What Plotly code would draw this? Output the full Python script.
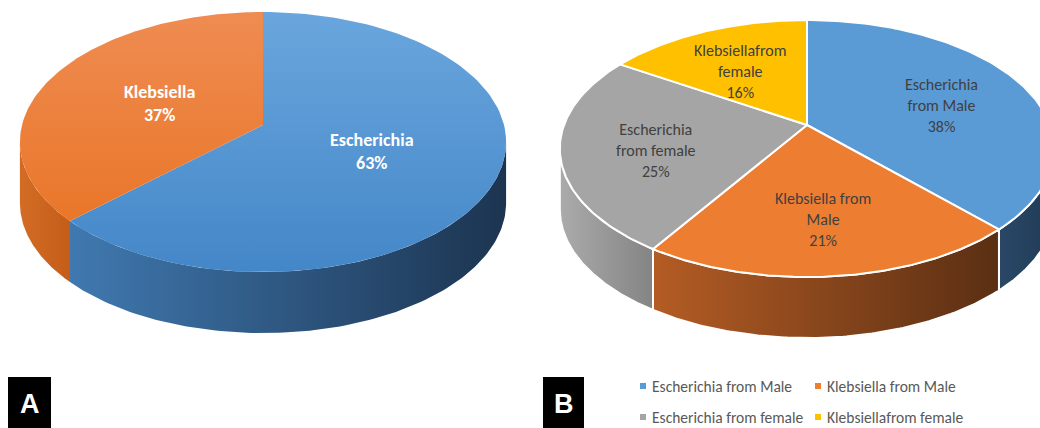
import numpy as np
import plotly.graph_objects as go

# Panel A: share of isolates by genus
genus_names = ["Escherichia", "Klebsiella"]
genus_share = [63, 37]

# Panel B: share of isolates by genus and sex
group_names = ["Escherichia from Male", "Klebsiella from Male",
               "Escherichia from female", "Klebsiellafrom female"]
group_text = ["Escherichia<br>from Male", "Klebsiella from<br>Male",
              "Escherichia<br>from female", "Klebsiellafrom<br>female"]
group_share = [38, 21, 25, 16]

# Styling
BLUE, ORANGE, GRAY, YELLOW = "#5B9BD5", "#ED7D31", "#A5A5A5", "#FFC000"
A_TOP = [("#6AA6DD", "#4487C8"), ("#EF8C52", "#E8711F")]
A_WALL = [("#4079B0", "#1C3450"), ("#D36C24", "#C45D18")]
B_TOP = [BLUE, ORANGE, GRAY, YELLOW]
B_WALL = [("#2A4866", "#1F3A55"), ("#B45C24", "#5A2F13"),
          ("#ABABAB", "#848484"), ("#D9A400", "#A07800")]
LABEL_FONT = "Carlito, Calibri, Lato, sans-serif"

W, H = 1040, 428


def project(p, r, theta_deg):
    """Perspective projection of a point on a tilted disc (angle clockwise from 12 o'clock)."""
    th = np.radians(theta_deg)
    X = r * np.sin(th)
    Y = r * np.cos(th)
    s = 1.0 / (1.0 + p["t"] * Y)
    return p["cx"] + p["ax"] * X * s, p["cy"] - p["by"] * Y * s


def arc(p, a1, a2, n=120):
    ang = np.linspace(a1, a2, max(n, 4))
    xs, ys = project(p, 1.0, ang)
    return np.asarray(xs), np.asarray(ys)


def slice_bounds(values):
    total = float(sum(values))
    edges = np.concatenate([[0.0], np.cumsum(values) / total * 360.0])
    return list(zip(edges[:-1], edges[1:]))


def add_pie(fig, p, values, top_colors, wall_colors, edge_color, edge_width, top_gradient):
    bounds = slice_bounds(values)
    th_r = np.degrees(np.arccos(-p["t"]))
    th_l = 360.0 - th_r
    # side walls first
    for (a1, a2), (c_left, c_right) in zip(bounds, wall_colors):
        lo, hi = max(a1, th_r), min(a2, th_l)
        if hi <= lo:
            continue
        xs, ys = arc(p, lo, hi)
        px = np.concatenate([xs, xs[::-1], xs[:1]])
        py = np.concatenate([ys, ys[::-1] + p["depth"], ys[:1]])
        fig.add_trace(go.Scatter(
            x=px, y=py, mode="lines", fill="toself",
            line=dict(color=edge_color, width=edge_width),
            fillgradient=dict(type="horizontal",
                              colorscale=[[0, c_left], [1, c_right]]),
            hoverinfo="skip", showlegend=False))
    # top faces
    top_y = p["cy"] - p["by"] / (1 + p["t"])
    bot_y = p["cy"] + p["by"] / (1 - p["t"])
    for (a1, a2), col in zip(bounds, top_colors):
        xs, ys = arc(p, a1, a2)
        px = np.concatenate([[p["cx"]], xs, [p["cx"]]])
        py = np.concatenate([[p["cy"]], ys, [p["cy"]]])
        kw = {}
        if top_gradient:
            kw["fillgradient"] = dict(type="vertical", start=top_y, stop=bot_y,
                                      colorscale=[[0, col[0]], [1, col[1]]])
        else:
            kw["fillcolor"] = col
        fig.add_trace(go.Scatter(
            x=px, y=py, mode="lines", fill="toself",
            line=dict(color=edge_color, width=edge_width),
            hoverinfo="skip", showlegend=False, **kw))
    return bounds


fig = go.Figure()

pie_a = dict(cx=263, cy=125, ax=241, by=127.8, t=0.131, depth=61)
pie_b = dict(cx=807, cy=125, ax=243, by=124.2, t=0.183, depth=61)

bounds_a = add_pie(fig, pie_a, genus_share, A_TOP, A_WALL,
                   "rgba(0,0,0,0)", 0, True)
bounds_b = add_pie(fig, pie_b, group_share, B_TOP, B_WALL,
                   "white", 2, False)

annotations = []

# data labels for panel A
for name, val, (a1, a2) in zip(genus_names, genus_share, bounds_a):
    lx, ly = project(pie_a, 0.48, (a1 + a2) / 2)
    annotations.append(dict(
        x=lx, y=ly + 2, xref="x", yref="y", showarrow=False,
        text=f"<b>{name}<br>{val}%</b>", align="center",
        font=dict(family=LABEL_FONT, size=18, color="white")))

# data labels for panel B
for txt, val, (a1, a2) in zip(group_text, group_share, bounds_b):
    lx, ly = project(pie_b, 0.62, (a1 + a2) / 2)
    annotations.append(dict(
        x=lx, y=ly + 8, xref="x", yref="y", showarrow=False,
        text=f"{txt}<br>{val}%", align="center",
        font=dict(family=LABEL_FONT, size=16, color="#404040")))

# legend for panel B (two rows of two entries)
leg_x0, leg_dx, leg_y0, leg_dy = 643, 175, 386, 31
leg_x = [leg_x0 + (i % 2) * leg_dx for i in range(len(group_names))]
leg_y = [leg_y0 + (i // 2) * leg_dy for i in range(len(group_names))]
fig.add_trace(go.Scatter(
    x=leg_x, y=leg_y, mode="markers",
    marker=dict(symbol="square", size=6, color=B_TOP),
    hoverinfo="skip", showlegend=False))
for name, lx, ly in zip(group_names, leg_x, leg_y):
    annotations.append(dict(
        x=lx + 7, y=ly, xref="x", yref="y", showarrow=False,
        xanchor="left", yanchor="middle", text=name,
        font=dict(family=LABEL_FONT, size=15.5, color="#595959")))

# panel letters
shapes = []
for letter, x0, x1 in [("A", 8, 51), ("B", 543, 584)]:
    shapes.append(dict(type="rect", xref="x", yref="y", x0=x0, x1=x1,
                       y0=377, y1=430, fillcolor="black", line=dict(width=0),
                       layer="below"))
    annotations.append(dict(
        x=(x0 + x1) / 2, y=404, xref="x", yref="y", showarrow=False,
        text=f"<b>{letter}</b>",
        font=dict(family="Liberation Sans, Arial, sans-serif", size=27, color="white")))

fig.update_layout(
    width=W, height=H,
    margin=dict(l=0, r=0, t=0, b=0),
    paper_bgcolor="white", plot_bgcolor="white",
    xaxis=dict(range=[0, W], visible=False, fixedrange=True),
    yaxis=dict(range=[H, 0], visible=False, fixedrange=True),
    shapes=shapes, annotations=annotations,
    showlegend=False,
)

fig.write_html("out.html")
